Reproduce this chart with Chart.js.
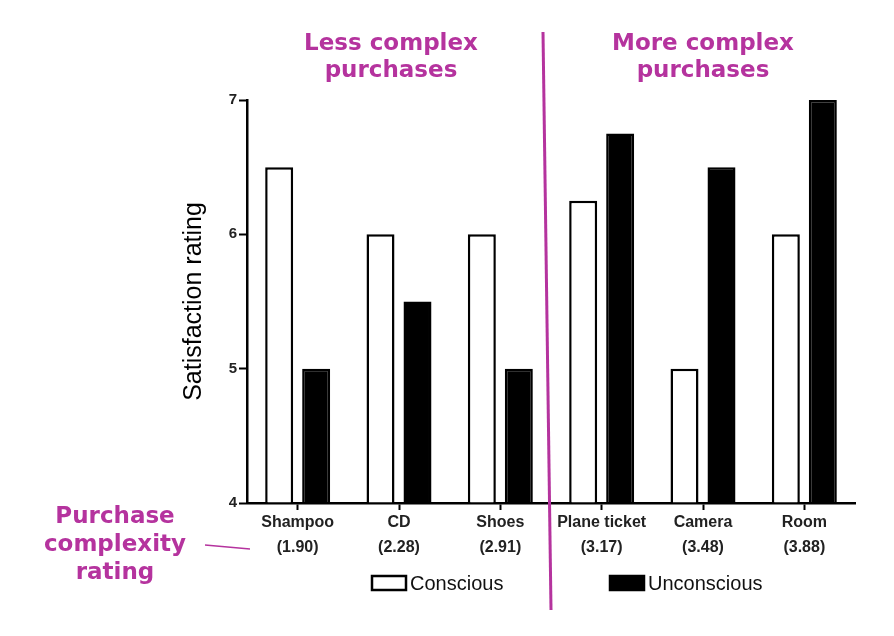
<!DOCTYPE html>
<html><head><meta charset="utf-8">
<script src="https://cdn.jsdelivr.net/npm/chart.js@4"></script>
<style>html,body{margin:0;padding:0;background:#fff}#wrap{width:894px;height:636px}</style>
</head><body><div id="wrap"><canvas id="c" width="894" height="636"></canvas></div>
<script>
const categories = ['Shampoo','CD','Shoes','Plane ticket','Camera','Room'];
const complexity = ['(1.90)','(2.28)','(2.91)','(3.17)','(3.48)','(3.88)'];
const conscious = [6.5, 6, 6, 6.25, 5, 6];
const unconscious = [5, 5.5, 5, 6.75, 6.5, 7];
const yTicks = [4, 5, 6, 7];
const seriesNames = ['Conscious', 'Unconscious'];
const groupTitles = [['Less complex', 'purchases'], ['More complex', 'purchases']];
const axisNote = ['Purchase', 'complexity', 'rating'];
const yTitle = 'Satisfaction rating';

const MAGENTA = '#b5339e';

const annotations = {
  id: 'annotations',
  afterDraw(chart) {
    const ctx = chart.ctx;
    ctx.save();
    ctx.fillStyle = MAGENTA;
    ctx.font = 'bold 23px "DejaVu Sans"';
    ctx.textAlign = 'center';
    ctx.textBaseline = 'middle';
    const gx = [391, 703];
    groupTitles.forEach((lines, i) => {
      lines.forEach((t, j) => ctx.fillText(t, gx[i], 44 + j * 27));
    });
    axisNote.forEach((t, j) => ctx.fillText(t, 115, 517 + j * 28));
    ctx.strokeStyle = MAGENTA;
    ctx.lineWidth = 3;
    ctx.beginPath(); ctx.moveTo(543, 32); ctx.lineTo(551, 610); ctx.stroke();
    ctx.lineWidth = 1.5;
    ctx.beginPath(); ctx.moveTo(205, 545); ctx.lineTo(250, 549); ctx.stroke();
    const lx = [372, 610];
    ctx.font = '20px "Liberation Sans"';
    ctx.textAlign = 'left';
    chart.data.datasets.forEach((ds, i) => {
      ctx.fillStyle = ds.backgroundColor;
      ctx.fillRect(lx[i], 576, 34, 14);
      ctx.strokeStyle = '#000';
      ctx.lineWidth = 2.5;
      ctx.strokeRect(lx[i], 576, 34, 14);
      ctx.fillStyle = '#111';
      ctx.fillText(ds.label, lx[i] + 38, 584);
    });
    ctx.restore();
  }
};

new Chart(document.getElementById('c'), {
  type: 'bar',
  data: {
    labels: categories.map((c, i) => [c, complexity[i]]),
    datasets: [
      { label: seriesNames[0], data: conscious, base: 4, backgroundColor: '#ffffff', borderColor: '#000', borderWidth: 2.5 },
      { label: seriesNames[1], data: unconscious, base: 4, backgroundColor: '#000000', borderColor: '#000', borderWidth: 2.5 }
    ]
  },
  options: {
    responsive: false,
    animation: false,
    devicePixelRatio: 1,
    categoryPercentage: 0.730,
    barPercentage: 0.757,
    layout: { padding: { left: 175, top: 100, right: 39, bottom: 0 } },
    plugins: { legend: { display: false }, tooltip: { enabled: false } },
    scales: {
      x: {
        offset: true,
        afterFit(s) { s.height = 133; },
        border: { display: true, color: '#000', width: 2.5 },
        grid: { offset: false, drawOnChartArea: false, drawTicks: true, tickLength: 7, color: '#000', tickWidth: 2 },
        ticks: { color: '#222', padding: 0, font: { family: '"Liberation Sans"', size: 16, weight: 'bold', lineHeight: 1.55 }, maxRotation: 0, autoSkip: false }
      },
      y: {
        min: 4, max: 7,
        afterFit(s) { s.width = 72; },
        afterBuildTicks(s) { s.ticks = yTicks.map(v => ({ value: v })); },
        border: { display: true, color: '#000', width: 2.5 },
        grid: { drawOnChartArea: false, drawTicks: true, tickLength: 8, color: '#000', tickWidth: 2 },
        ticks: { color: '#222', padding: 2, font: { family: '"Liberation Sans"', size: 15, weight: 'bold' } },
        title: { display: true, text: yTitle, color: '#000', font: { family: '"Liberation Sans"', size: 25 }, padding: { top: 4, bottom: 4 } }
      }
    }
  },
  plugins: [annotations]
});
</script>
</body></html>
